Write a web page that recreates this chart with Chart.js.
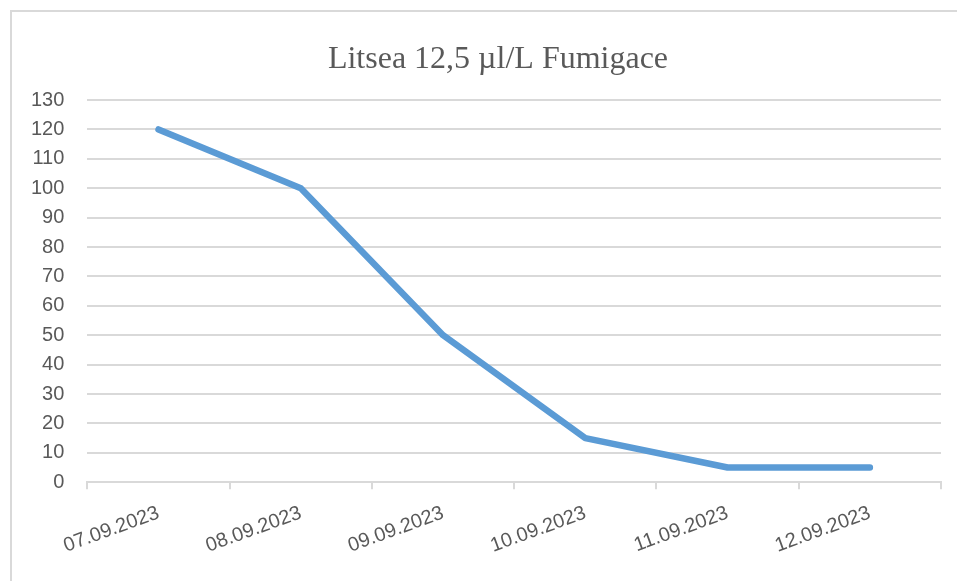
<!DOCTYPE html>
<html>
<head>
<meta charset="utf-8">
<script src="https://cdn.jsdelivr.net/npm/chart.js@4.4.1/dist/chart.umd.min.js"></script>
<style>
    html, body { margin: 0; padding: 0; background: #fff; overflow: hidden; }
    #frame {
        position: absolute; left: 10px; top: 10px;
        width: 980px; height: 620px;
        border: 2px solid #d9d9d9;
    }
    #wrap { position: absolute; left: 0; top: 0; width: 957px; height: 581px; }
</style>
</head>
<body>
<div id="frame"></div>
<div id="wrap"><canvas id="chart"></canvas></div>
<script>
// données
const dates = ['07.09.2023', '08.09.2023', '09.09.2023', '10.09.2023', '11.09.2023', '12.09.2023'];
const valeurs = [120, 100, 50, 15, 5, 5];
const titre = 'Litsea 12,5 µl/L Fumigace';

const gris = '#595959';
const grille = '#d9d9d9';

// titre dessiné à la main, un peu décalé vers la droite comme dans Excel
const titrePlugin = {
    id: 'titreExcel',
    afterDraw(chart) {
        const { ctx } = chart;
        ctx.save();
        ctx.font = '32px "Liberation Serif", "Times New Roman", serif';
        ctx.fillStyle = gris;
        ctx.textAlign = 'center';
        ctx.textBaseline = 'alphabetic';
        ctx.fillText(titre, 498, 68);
        ctx.restore();
    }
};

const ctx = document.getElementById('chart').getContext('2d');
new Chart(ctx, {
    type: 'line',
    data: {
        labels: dates,
        datasets: [{
            data: valeurs,
            borderColor: '#5b9bd5',
            borderWidth: 6.5,
            borderCapStyle: 'round',
            borderJoinStyle: 'round',
            pointRadius: 0,
            tension: 0,
            fill: false
        }]
    },
    options: {
        responsive: true,
        maintainAspectRatio: false,
        animation: false,
        layout: {
            padding: { left: 8, right: 16, top: 100, bottom: 11 }
        },
        plugins: {
            legend: { display: false },
            tooltip: { enabled: false },
            title: { display: false }
        },
        scales: {
            x: {
                offset: true,
                grid: {
                    offset: true,
                    drawOnChartArea: false,
                    drawTicks: true,
                    tickLength: 7,
                    color: grille,
                    lineWidth: 2
                },
                border: { display: true, color: grille, width: 2 },
                ticks: {
                    color: gris,
                    minRotation: 20,
                    maxRotation: 20,
                    padding: 12,
                    font: { family: '"Liberation Sans", Arial, sans-serif', size: 20 }
                }
            },
            y: {
                min: 0,
                max: 130,
                ticks: {
                    stepSize: 10,
                    color: gris,
                    padding: 23,
                    font: { family: '"Liberation Sans", Arial, sans-serif', size: 20 }
                },
                grid: {
                    color: grille,
                    lineWidth: 2,
                    drawTicks: false
                },
                border: { display: false }
            }
        }
    },
    plugins: [titrePlugin]
});
</script>
</body>
</html>
